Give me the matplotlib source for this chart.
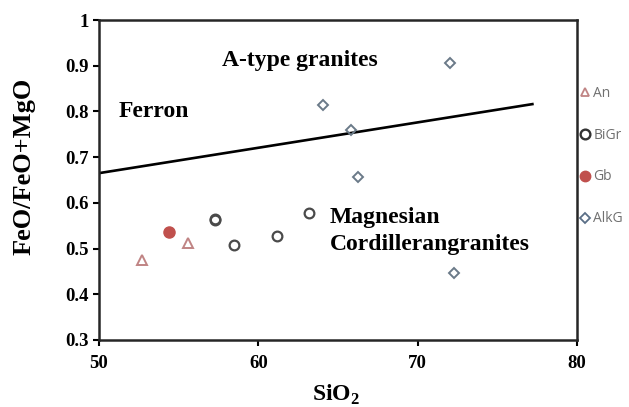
import matplotlib
matplotlib.use("Agg")
import matplotlib.pyplot as plt
from matplotlib.lines import Line2D

# Data
an_x = [52.7, 55.6]
an_y = [0.475, 0.512]
bigr_x = [57.3, 57.3, 58.45, 61.2, 63.2]
bigr_y = [0.5625, 0.5645, 0.508, 0.527, 0.578]
gb_x = [54.4]
gb_y = [0.537]
alkg_x = [72.0, 64.05, 65.8, 66.27, 72.3]
alkg_y = [0.907, 0.813, 0.759, 0.656, 0.446]
line_x = [50, 77.2]
line_y = [0.665, 0.816]

xticks = [50, 60, 70, 80]
yticks = [0.3, 0.4, 0.5, 0.6, 0.7, 0.8, 0.9, 1]
yticklabels = ["0.3", "0.4", "0.5", "0.6", "0.7", "0.8", "0.9", "1"]

serif = "Liberation Serif"
plt.rcParams["mathtext.fontset"] = "custom"
plt.rcParams["mathtext.rm"] = "Liberation Serif:bold"
plt.rcParams["mathtext.bf"] = "Liberation Serif:bold"

fig = plt.figure(figsize=(6.29, 4.07), dpi=100)
ax = fig.add_axes([99/629, 67/407, 478/629, 320/407])

ax.plot(line_x, line_y, color="black", lw=1.9)

ms = 7
ax.plot(an_x, an_y, linestyle="none", marker="^", ms=ms, mfc="none",
        mec="#c08484", mew=1.4)
ax.plot(bigr_x, bigr_y, linestyle="none", marker="o", ms=ms, mfc="none",
        mec="#4a4a4a", mew=1.6)
ax.plot(gb_x, gb_y, linestyle="none", marker="o", ms=8, mfc="#c0504d",
        mec="#c0504d")
ax.plot(alkg_x, alkg_y, linestyle="none", marker="D", ms=5.5, mfc="none",
        mec="#6a7a88", mew=1.4)

ax.set_xlim(50, 80)
ax.set_ylim(0.3, 1.0)
ax.set_xticks(xticks)
ax.set_yticks(yticks)
ax.set_yticklabels(yticklabels)
ax.tick_params(direction="out", length=4, width=1.5, labelsize=13.5)
ax.tick_params(axis="x", pad=7)
for lab in ax.get_xticklabels() + ax.get_yticklabels():
    lab.set_fontfamily(serif)
    lab.set_fontweight("bold")
for sp in ax.spines.values():
    sp.set_linewidth(1.8)
    sp.set_color("#262626")

ax.set_xlabel("SiO$_2$", fontfamily=serif, fontweight="bold", fontsize=17)
ax.xaxis.set_label_coords(0.495, -0.135)
ax.set_ylabel("FeO/FeO+MgO", fontfamily=serif, fontweight="bold", fontsize=19)
ax.yaxis.set_label_coords(-0.133, 0.544)

tkw = dict(fontfamily=serif, fontweight="bold", fontsize=17)
ax.text(57.72, 0.912, "A-type granites", ha="left", va="center", **tkw)
ax.text(51.2, 0.800, "Ferron", ha="left", va="center", **tkw)
ax.text(64.5, 0.569, "Magnesian", ha="left", va="center", **tkw)
ax.text(64.5, 0.508, "Cordillerangranites", ha="left", va="center", **tkw)

handles = [
    Line2D([], [], linestyle="none", marker="^", ms=6, mfc="none", mec="#c08484", mew=1.3),
    Line2D([], [], linestyle="none", marker="o", ms=7, mfc="none", mec="#333333", mew=1.7),
    Line2D([], [], linestyle="none", marker="o", ms=7.5, mfc="#c0504d", mec="#c0504d"),
    Line2D([], [], linestyle="none", marker="D", ms=5, mfc="none", mec="#5a6e86", mew=1.3),
]
labels = ["An", "BiGr", "Gb", "AlkG"]
leg = ax.legend(handles, labels, loc="center left", bbox_to_anchor=(1.008, 0.575),
                frameon=False, labelspacing=1.94, handlelength=0.6,
                handletextpad=0.3, borderaxespad=0, borderpad=0,
                prop={"family": "Open Sans", "size": 10})
for t in leg.get_texts():
    t.set_color("#707070")

fig.savefig("out.png", dpi=100)
